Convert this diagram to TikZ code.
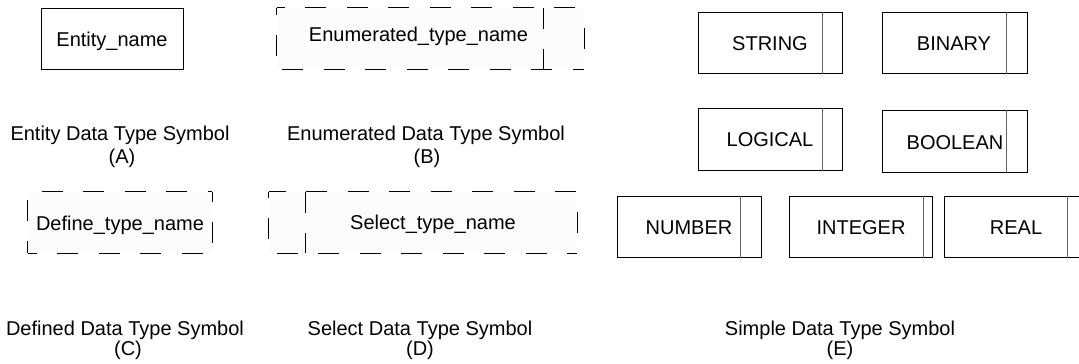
\documentclass[tikz,border=0pt]{standalone}
\usepackage{fontspec}
\setmainfont{Liberation Sans}
\begin{document}
\begin{tikzpicture}[x=1pt,y=-1pt,
  txt/.style={font=\fontsize{20}{24}\selectfont, inner sep=0pt, anchor=base},
  captext/.style={font=\fontsize{20}{24}\selectfont, inner sep=0pt, anchor=base},
  solidbox/.style={draw=black, line width=1pt, inner sep=0pt},
  divider/.style={draw={rgb,255:red,100;green,100;blue,100}, line width=1.3pt},
  dashedge/.style={line width=1.2pt, dash pattern=on 21pt off 20.5pt},
  ghost/.style={inner sep=0pt, fill=black!1}
]
\useasboundingbox (0,0) rectangle (1079,364);
\clip (0,0) rectangle (1079,364);

% (A) Entity
\node[solidbox, minimum width=142pt, minimum height=61pt] (entbox) at (112,38.5) {};
\node[txt] (entt) at (112,46) {Entity\_name};
\node[captext] (capA1) at (120,140) {Entity Data Type Symbol};
\node[captext] (capA2) at (122,163) {(A)};

% (B) Enumerated
\node[ghost, minimum width=307pt, minimum height=61pt] (enumbox) at (430.5,38.5) {};
\draw[dashedge, dash phase=13pt] (enumbox.north west) -- (enumbox.north east);
\draw[dashedge, dash phase=14pt] (enumbox.north west) -- (enumbox.south west);
\draw[dashedge, dash phase=21.5pt] (enumbox.north east) -- (enumbox.south east);
\draw[dashedge, dash phase=36pt] (enumbox.south west) -- (enumbox.south east);
\draw[dashedge, dash phase=0pt] ([xshift=-41pt]enumbox.north east) -- ([xshift=-41pt]enumbox.south east);
\node[txt] (enumt) at (418.5,41) {Enumerated\_type\_name};
\node[captext] (capB1) at (426,140) {Enumerated Data Type Symbol};
\node[captext] (capB2) at (427,163) {(B)};

% (C) Defined
\node[ghost, minimum width=184pt, minimum height=61pt] (defbox) at (120,222.5) {};
\draw[dashedge, dash phase=27.5pt] (defbox.north west) -- (defbox.north east);
\draw[dashedge, dash phase=33.5pt] (defbox.north west) -- (defbox.south west);
\draw[dashedge, dash phase=11pt] (defbox.north east) -- (defbox.south east);
\draw[dashedge, dash phase=12pt] (defbox.south west) -- (defbox.south east);
\node[txt] (deft) at (120,230) {Define\_type\_name};
\node[captext] (capC1) at (125,335) {Defined Data Type Symbol};
\node[captext] (capC2) at (128,355) {(C)};

% (D) Select
\node[ghost, minimum width=308pt, minimum height=61pt] (selbox) at (423,222.5) {};
\draw[dashedge, dash phase=4pt] (selbox.north west) -- (selbox.north east);
\draw[dashedge, dash phase=15pt] (selbox.north west) -- (selbox.south west);
\draw[dashedge, dash phase=21.5pt] (selbox.north east) -- (selbox.south east);
\draw[dashedge, dash phase=33.5pt] (selbox.south west) -- (selbox.south east);
\draw[dashedge, dash phase=0pt] ([xshift=37pt]selbox.north west) -- ([xshift=37pt]selbox.south west);
\node[txt] (selt) at (433,229) {Select\_type\_name};
\node[captext] (capD1) at (420,335) {Select Data Type Symbol};
\node[captext] (capD2) at (420,355) {(D)};

% (E) Simple
\node[solidbox, minimum width=144pt, minimum height=61pt] (strbox) at (770,42.5) {};
\draw[divider] ([xshift=-20pt]strbox.north east) -- ([xshift=-20pt]strbox.south east);
\node[txt] (strt) at (770,50) {STRING};

\node[solidbox, minimum width=145pt, minimum height=61pt] (binbox) at (954.5,42.5) {};
\draw[divider] ([xshift=-21pt]binbox.north east) -- ([xshift=-21pt]binbox.south east);
\node[txt] (bint) at (954,50) {BINARY};

\node[solidbox, minimum width=144pt, minimum height=62pt] (logbox) at (770,139) {};
\draw[divider] ([xshift=-20pt]logbox.north east) -- ([xshift=-20pt]logbox.south east);
\node[txt] (logt) at (770,146) {LOGICAL};

\node[solidbox, minimum width=145pt, minimum height=62pt] (boolbox) at (954.5,141) {};
\draw[divider] ([xshift=-21pt]boolbox.north east) -- ([xshift=-21pt]boolbox.south east);
\node[txt] (boolt) at (955,149) {BOOLEAN};

\node[solidbox, minimum width=144pt, minimum height=61pt] (numbox) at (689,226.5) {};
\draw[divider] ([xshift=-21pt]numbox.north east) -- ([xshift=-21pt]numbox.south east);
\node[txt] (numt) at (689,234) {NUMBER};

\node[solidbox, minimum width=143pt, minimum height=61pt] (intbox) at (860.5,226.5) {};
\draw[divider] ([xshift=-9pt]intbox.north east) -- ([xshift=-9pt]intbox.south east);
\node[txt] (intt) at (861,234) {INTEGER};

\node[solidbox, minimum width=144pt, minimum height=61pt] (realbox) at (1016,226.5) {};
\draw[divider] ([xshift=-21pt]realbox.north east) -- ([xshift=-21pt]realbox.south east);
\node[txt] (realt) at (1016,234) {REAL};

\node[captext] (capE1) at (840,335) {Simple Data Type Symbol};
\node[captext] (capE2) at (840,355) {(E)};
\end{tikzpicture}
\end{document}
